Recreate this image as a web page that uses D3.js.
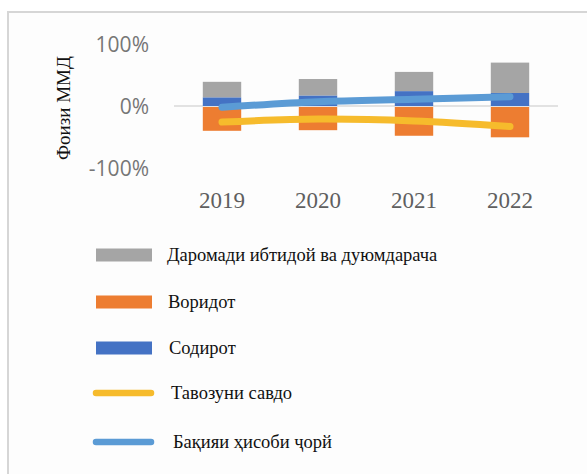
<!DOCTYPE html>
<html><head><meta charset="utf-8">
<script src="https://cdn.jsdelivr.net/npm/d3@7"></script>
<style>html,body{margin:0;padding:0;background:#fff;overflow:hidden}</style>
</head><body>
<script>
const years = ["2019","2020","2021","2022"];
const primarySecondary = [0.25, 0.265, 0.31, 0.49];
const imports = [-0.40, -0.39, -0.48, -0.505];
const exports = [0.14, 0.17, 0.24, 0.21];
const tradeBalance = [-0.26, -0.21, -0.24, -0.33];
const currentAccount = [-0.02, 0.07, 0.11, 0.15];
const yTicks = [1, 0, -1];
const legendLabels = ["Даромади ибтидой ва дуюмдарача","Воридот","Содирот","Тавозуни савдо","Бақияи ҳисоби ҷорй"];
const colors = {gray:"#a5a5a5", orange:"#ed7d31", blue:"#4472c4", yellow:"#f6bb2c", lblue:"#5b9bd5"};

const W=587,H=474;
const svg=d3.select("body").append("svg").attr("width",W).attr("height",H);
svg.append("rect").attr("x",8).attr("y",12).attr("width",W+10).attr("height",H+10)
  .attr("fill","#fdfdfd").attr("stroke","#d6d6d6").attr("stroke-width",2);

const x=d3.scaleBand().domain(years).range([174,558]).paddingInner(0.6).paddingOuter(0.3);
const y=d3.scaleLinear().domain([-1,1]).range([168,44]);

const pct=d3.formatLocale({decimal:".",thousands:",",grouping:[3],currency:["",""],minus:"-"}).format(".0%");
svg.append("g").selectAll("text").data(yTicks).join("text")
  .attr("x",149).attr("y",d=>y(d)).attr("dy","0.36em").attr("text-anchor","end")
  .attr("font-family","'Open Sans',sans-serif").attr("font-size",21).attr("fill","#767676")
  .text(d=>pct(d));

svg.append("line").attr("x1",174).attr("x2",558).attr("y1",y(0)).attr("y2",y(0))
  .attr("stroke","#d9d9d9").attr("stroke-width",1.5);

const bw=x.bandwidth();
const g=svg.append("g");
g.selectAll(".ex").data(years).join("rect")
  .attr("x",d=>x(d)).attr("width",bw)
  .attr("y",(d,i)=>y(exports[i])).attr("height",(d,i)=>y(0)-y(exports[i])).attr("fill",colors.blue);
g.selectAll(".ps").data(years).join("rect")
  .attr("x",d=>x(d)).attr("width",bw)
  .attr("y",(d,i)=>y(exports[i]+primarySecondary[i])).attr("height",(d,i)=>y(exports[i])-y(exports[i]+primarySecondary[i])).attr("fill",colors.gray);
g.selectAll(".im").data(years).join("rect")
  .attr("x",d=>x(d)).attr("width",bw)
  .attr("y",y(0)+1).attr("height",(d,i)=>y(imports[i])-y(0)-1).attr("fill",colors.orange);

const cx=d=>x(d)+bw/2;
const line=d3.line().x(d=>cx(d[0])).y(d=>y(d[1])).curve(d3.curveCatmullRom.alpha(0));
svg.append("path").datum(years.map((d,i)=>[d,tradeBalance[i]])).attr("d",line)
  .attr("fill","none").attr("stroke",colors.yellow).attr("stroke-width",7).attr("stroke-linecap","round");
svg.append("path").datum(years.map((d,i)=>[d,currentAccount[i]])).attr("d",line)
  .attr("fill","none").attr("stroke",colors.lblue).attr("stroke-width",7).attr("stroke-linecap","round");

svg.append("g").selectAll("text").data(years).join("text")
  .attr("x",d=>cx(d)).attr("y",200).attr("dy","0.36em").attr("text-anchor","middle")
  .attr("font-family","'Liberation Serif','Times New Roman',serif").attr("font-size",23).attr("fill","#5f5f5f")
  .text(d=>d);

svg.append("text").attr("transform","translate(63,108) rotate(-90)").attr("text-anchor","middle")
  .attr("dy","0.35em").attr("font-family","'Liberation Serif',serif").attr("font-size",19).attr("fill","#111")
  .text("Фоизи ММД");

const ly=[255,302,348,393,442];
const lx=[167,168,169,171,173];
const kinds=["rect","rect","rect","line","line"];
const lcol=[colors.gray,colors.orange,colors.blue,colors.yellow,colors.lblue];
const lg=svg.append("g");
legendLabels.forEach((t,i)=>{
  if(kinds[i]==="rect"){
    lg.append("rect").attr("x",96).attr("y",ly[i]-6.5).attr("width",56).attr("height",13).attr("fill",lcol[i]);
  } else {
    lg.append("line").attr("x1",96).attr("x2",151).attr("y1",ly[i]).attr("y2",ly[i])
      .attr("stroke",lcol[i]).attr("stroke-width",6.5).attr("stroke-linecap","round");
  }
  lg.append("text").attr("x",lx[i]).attr("y",ly[i]).attr("dy","0.35em")
    .attr("font-family","'Liberation Serif',serif").attr("font-size",18.5).attr("fill","#111").text(t);
});
</script>
</body></html>
